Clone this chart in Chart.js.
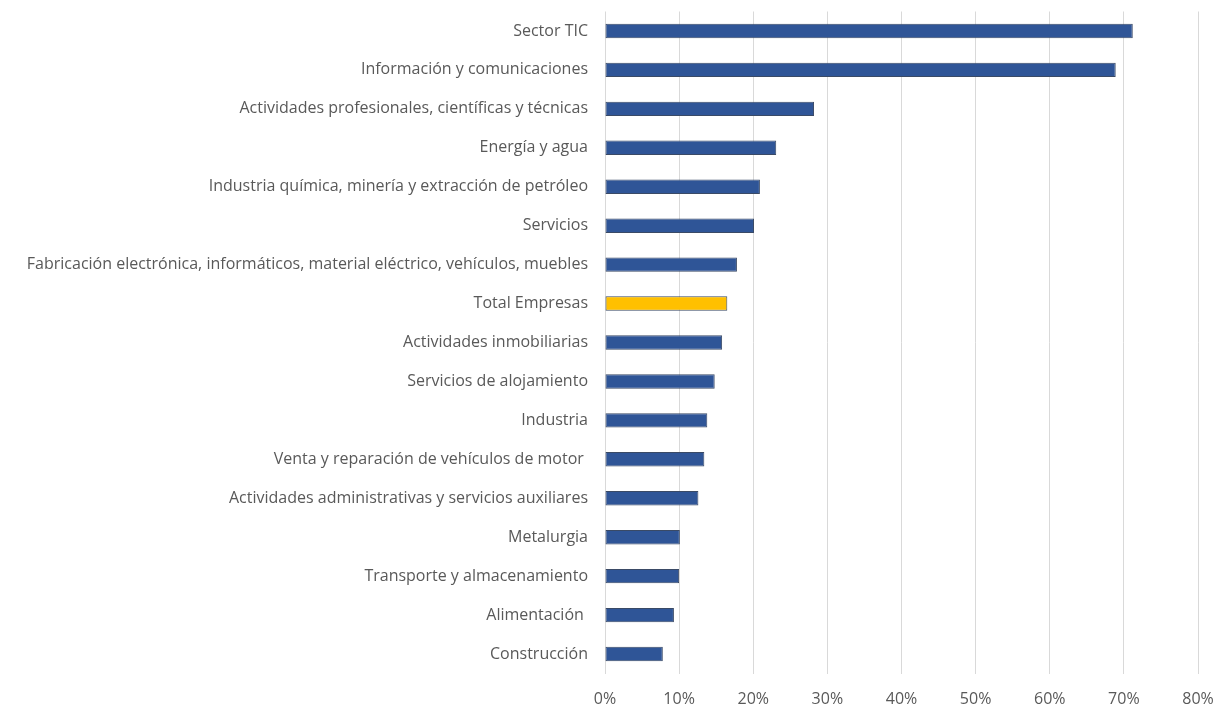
<!DOCTYPE html>
<html lang="es">
<head>
  <meta charset="UTF-8" />
  <title>Sectores</title>
  <script src="https://cdn.jsdelivr.net/npm/chart.js"></script>
  <style>
    html, body {
      margin: 0;
      background: #ffffff;
    }
    .wrap {
      width: 1222px;
      height: 706px;
    }
  </style>
</head>
<body>
  <div class="wrap"><canvas id="barChart"></canvas></div>

  <script>
    const sectors = [
      "Sector TIC",
      "Información y comunicaciones",
      "Actividades profesionales, científicas y técnicas",
      "Energía y agua",
      "Industria química, minería y extracción de petróleo",
      "Servicios",
      "Fabricación electrónica, informáticos, material eléctrico, vehículos, muebles",
      "Total Empresas",
      "Actividades inmobiliarias",
      "Servicios de alojamiento",
      "Industria",
      "Venta y reparación de vehículos de motor ",
      "Actividades administrativas y servicios auxiliares",
      "Metalurgia",
      "Transporte y almacenamiento",
      "Alimentación ",
      "Construcción"
    ];

    const shares = [0.712, 0.689, 0.282, 0.231, 0.209, 0.201, 0.178, 0.165, 0.158,
                    0.148, 0.138, 0.134, 0.126, 0.101, 0.100, 0.093, 0.078];

    const xTicks = [0, 0.1, 0.2, 0.3, 0.4, 0.5, 0.6, 0.7, 0.8];

    const barColors = sectors.map(s => s === "Total Empresas" ? "#ffc000" : "#2f5597");

    const labelFont = { family: "Open Sans", size: 16 };

    const ctx = document.getElementById("barChart").getContext("2d");
    new Chart(ctx, {
      type: "bar",
      data: {
        labels: sectors,
        datasets: [{
          data: shares,
          backgroundColor: barColors,
          borderColor: "#3a4a66",
          borderWidth: 1,
          borderSkipped: false,
          barPercentage: 0.37,
          categoryPercentage: 1
        }]
      },
      options: {
        indexAxis: "y",
        responsive: true,
        maintainAspectRatio: false,
        animation: false,
        layout: {
          padding: { top: 11.5, right: 24, bottom: 0, left: 0 }
        },
        plugins: {
          legend: { display: false },
          tooltip: { enabled: false }
        },
        scales: {
          x: {
            min: 0,
            max: 0.8,
            afterBuildTicks: scale => {
              scale.ticks = xTicks.map(v => ({ value: v }));
            },
            afterFit: scale => {
              scale.height = 32.5;
              scale.paddingLeft = 0;
              scale.paddingRight = 0;
            },
            grid: {
              color: "#d9d9d9",
              lineWidth: 1,
              drawTicks: false
            },
            border: { display: false },
            ticks: {
              padding: 16,
              color: "#595959",
              font: labelFont,
              callback: v => Math.round(v * 100) + "%"
            }
          },
          y: {
            afterFit: scale => {
              scale.width = 605;
              scale.paddingTop = 0;
              scale.paddingBottom = 0;
            },
            grid: { display: false, drawTicks: false },
            border: { display: false },
            ticks: {
              padding: 17,
              autoSkip: false,
              color: "#595959",
              font: labelFont
            }
          }
        }
      }
    });
  </script>
</body>
</html>
